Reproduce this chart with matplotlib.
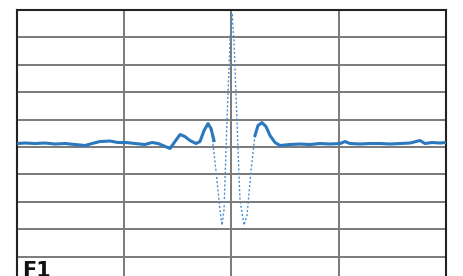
import numpy as np
import matplotlib.pyplot as plt

# scope trace, time and amplitude in screen divisions
t_left = [0.000, 0.075, 0.168, 0.261, 0.354, 0.448, 0.541, 0.634, 0.699, 0.774,
          0.867, 0.942, 1.016, 1.100, 1.193, 1.259, 1.315, 1.361, 1.427, 1.473,
          1.520, 1.566, 1.613, 1.669, 1.706, 1.744, 1.781, 1.809, 1.837]
v_left = [0.127, 0.145, 0.127, 0.145, 0.109, 0.127, 0.091, 0.055, 0.127, 0.200,
          0.218, 0.164, 0.164, 0.127, 0.091, 0.164, 0.127, 0.055, -0.055, 0.200,
          0.455, 0.382, 0.236, 0.127, 0.200, 0.600, 0.855, 0.673, 0.236]

# fast part of the pulse (drawn thin and dotted on the scope)
t_fast = [1.818, 1.855, 1.893, 1.911, 1.930, 1.958, 1.986, 2.005, 2.023, 2.051,
          2.079, 2.117, 2.145, 2.182, 2.219]
v_fast = [0.418, -0.855, -2.309, -2.855, -2.309, 0.964, 3.873, 4.891, 3.873, 0.964,
          -1.945, -2.855, -2.491, -0.855, 0.418]

t_right = [2.219, 2.247, 2.284, 2.322, 2.359, 2.406, 2.452, 2.545, 2.639, 2.732,
           2.825, 2.918, 3.012, 3.058, 3.105, 3.198, 3.291, 3.385, 3.478, 3.571,
           3.664, 3.758, 3.804, 3.869, 3.944, 4.000]
v_right = [0.418, 0.782, 0.891, 0.745, 0.418, 0.164, 0.055, 0.091, 0.109, 0.091,
           0.127, 0.109, 0.127, 0.200, 0.127, 0.109, 0.127, 0.127, 0.109, 0.127,
           0.145, 0.236, 0.127, 0.164, 0.145, 0.164]

blue = "#2a78bd"

fig = plt.figure(figsize=(4.64, 2.76), dpi=100)
ax = fig.add_axes([17/464, -8/276, 429/464, 274/276])

ax.set_xlim(0, 4)
ax.set_ylim(-5, 5)
for x in range(1, 4):
    ax.axvline(x, color="#7a7a7a", lw=1.4, zorder=1)
for y in range(-4, 5):
    ax.axhline(y, color="#7a7a7a", lw=1.4, zorder=1)

ax.plot(t_fast, v_fast, color="#4a8fd0", lw=1.0, ls=(0, (1.5, 1.5)), zorder=2)
ax.plot(t_left, v_left, color=blue, lw=2.2, solid_joinstyle="round", zorder=3)
ax.plot(t_right, v_right, color=blue, lw=2.2, solid_joinstyle="round", zorder=3)

for s in ax.spines.values():
    s.set_color("#222222")
    s.set_linewidth(1.5)
ax.set_xticks([])
ax.set_yticks([])

fig.text(22/464, 1 - 277/276, "F1", fontsize=15, fontweight="bold",
         color="#111111", ha="left", va="baseline")

plt.savefig("out.png", dpi=100)
